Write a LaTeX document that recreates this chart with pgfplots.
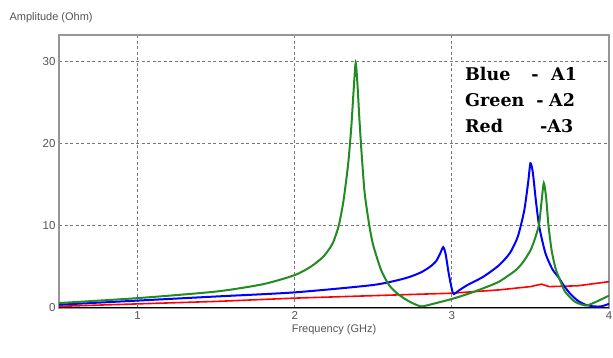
\documentclass[border=0pt]{standalone}
\usepackage{pgfplots}
\pgfplotsset{compat=1.18}
\usepackage{fontspec}
\setmainfont{Liberation Sans}
\newfontfamily\serifb{DejaVu Serif}
\definecolor{txtgray}{RGB}{85,85,85}
\definecolor{gridgray}{RGB}{120,120,120}
\definecolor{frame}{RGB}{150,150,150}
\definecolor{cgreen}{RGB}{34,139,34}
\begin{document}
\begin{tikzpicture}[x=1pt,y=1pt]
\useasboundingbox (0,0) rectangle (613,358);
\fill[white] (0,0) rectangle (613,358);
\node[anchor=west, text=txtgray, font=\fontsize{11}{12}\selectfont] at (6,340) {Amplitude (Ohm)};
\begin{axis}[
  at={(59pt,50pt)}, anchor=south west,
  scale only axis, width=550pt, height=273pt,
  xmin=0.5, xmax=4, ymin=0, ymax=33.2,
  xtick={1,2,3,4}, ytick={0,10,20,30},
  grid=major,
  major grid style={gridgray, dash pattern=on 3pt off 2.5pt, line width=0.8pt},
  tick style={draw=none},
  axis line style={frame, line width=1.5pt},
  ticklabel style={text=txtgray, font=\fontsize{11.5}{12}\selectfont},
  /pgf/number format/assume math mode=true,
  xlabel={Frequency (GHz)},
  xlabel style={text=txtgray, font=\fontsize{11}{12}\selectfont, yshift=2pt},
  clip=true,
]
% black
\addplot[black, line width=1.5pt] coordinates {(0.5,0.08) (4,0.08)};
% red A3
\addplot[red, line width=1.6pt] coordinates {
(0.5,0.2) (1.0,0.5) (1.5,0.8) (2.0,1.2) (2.5,1.5) (3.0,1.8) (3.3,2.2) (3.5,2.6) (3.57,2.9) (3.62,2.6) (3.8,2.7) (4.0,3.2)};
% blue A1
\addplot[blue, line width=2pt, smooth, tension=0.4] coordinates {
(0.5,0.4) (1.0,0.9) (1.5,1.4) (2.0,1.9) (2.5,2.8) (2.7,3.6) (2.8,4.3) (2.86,5.0) (2.9,5.7) (2.925,6.6) (2.945,7.4) (2.96,6.6) (2.98,4.2) (3.0,2.3) (3.012,1.7)
(3.05,2.2) (3.1,2.8) (3.2,3.8) (3.3,5.2) (3.37,6.7) (3.42,8.7) (3.46,11.8) (3.485,15.2) (3.5,17.6) (3.515,16.5) (3.535,13) (3.555,10) (3.58,7.8) (3.6,6.4) (3.64,4.7) (3.68,3.7) (3.71,2.8) (3.75,1.8) (3.8,0.9) (3.85,0.4) (3.9,0.2) (3.95,0.2) (4.0,0.5)};
% green A2
\addplot[cgreen, line width=2pt, smooth, tension=0.4] coordinates {
(0.5,0.6) (1.0,1.2) (1.5,2.0) (1.8,2.9) (2.0,4.0) (2.1,5.0) (2.18,6.2) (2.24,7.8) (2.28,10) (2.31,13) (2.34,17.5) (2.36,22) (2.375,26.5) (2.388,29.8)
(2.4,27) (2.41,23.5) (2.425,19) (2.445,14) (2.475,10) (2.5,7.6) (2.55,4.6) (2.6,2.8) (2.65,1.8) (2.71,1.0) (2.76,0.5) (2.81,0.2)
(2.9,0.6) (3.0,1.1) (3.1,1.7) (3.2,2.4) (3.3,3.2) (3.4,4.5) (3.45,5.5) (3.5,7.0) (3.53,8.5) (3.555,10.2) (3.57,12.8) (3.585,15.2) (3.6,13.4) (3.615,10) (3.635,7) (3.66,4.8) (3.69,3.3) (3.72,2.0) (3.78,0.8) (3.85,0.3) (3.9,0.6) (4.0,1.5)};
\end{axis}
\begin{scope}[every node/.style={inner sep=0pt, font=\serifb\bfseries\fontsize{17.5}{18}\selectfont}]
\node[anchor=base west] at (465,277) {Blue};
\node[anchor=base] at (535,277) {-};
\node[anchor=base west] at (551,277) {A1};
\node[anchor=base west] at (465,251) {Green};
\node[anchor=base] at (540,251) {-};
\node[anchor=base west] at (549,251) {A2};
\node[anchor=base west] at (540,225) {-A3};
\node[anchor=base west] at (465,225) {Red};
\end{scope}
\end{tikzpicture}
\end{document}
